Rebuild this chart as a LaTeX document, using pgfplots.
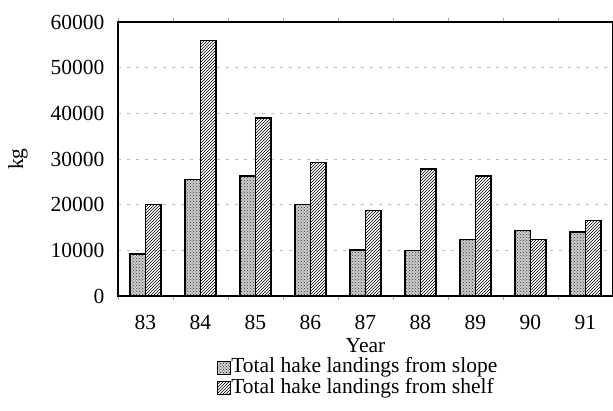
\documentclass[border=0pt]{standalone}
\usepackage{fontspec}
\setmainfont{Liberation Serif}
\usepackage{pgfplots}
\pgfplotsset{compat=1.18}
\usetikzlibrary{patterns}
\begin{document}
\begin{tikzpicture}[font=\fontsize{21.5}{23}\selectfont]
\path[use as bounding box] (0,0) rectangle (613pt,410pt);
\begin{axis}[
  at={(118pt,114pt)}, anchor=south west,
  scale only axis, width=495pt, height=274pt,
  /pgf/number format/assume math mode=true,
  ybar=0pt, bar width=15.6pt,
  xmin=-0.5, xmax=8.5, ymin=0, ymax=60000,
  xtick={0,...,8},
  xticklabels={83,84,85,86,87,88,89,90,91},
  minor xtick={-0.5,0.5,...,8.5},
  ytick={0,10000,...,60000},
  scaled y ticks=false,
  /pgf/number format/fixed,
  /pgf/number format/1000 sep={},
  yticklabel style={xshift=-10pt},
  xticklabel style={yshift=-16pt},
  tick align=outside,
  major tick length=0pt,
  minor tick length=4pt,
  minor x tick style={draw=gray!70, thin},
  ymajorgrids,
  grid style={gray!55, dash pattern=on 3pt off 6pt, line width=0.4pt},
  axis line style={line width=1.3pt},
  xlabel={Year},
  xlabel style={at={(axis description cs:0.5,-0.182)}, anchor=center, inner sep=0pt},
  ylabel={kg},
  ylabel style={at={(axis description cs:-0.202,0.5)}, anchor=center},
  legend style={at={(0.2,-0.228)}, anchor=north west, draw=none, fill=none,
    legend cell align=left, row sep=1.5pt, inner sep=0pt,
    nodes={text height=14pt, text depth=4.5pt, inner sep=0.3pt},
    /tikz/every even column/.append style={column sep=2pt}},
  legend image code/.code={\draw[#1, line width=0.8pt] (0pt,-6pt) rectangle (13pt,7pt);},
]
\addplot[draw=black, line width=1.3pt, fill=gray!40, postaction={pattern=crosshatch dots, pattern color=black!80}]
  coordinates {(0,9200) (1,25500) (2,26300) (3,20100) (4,10100) (5,9900) (6,12400) (7,14300) (8,14000)};
\addplot[draw=black, line width=1.3pt, pattern=north east lines, pattern color=black]
  coordinates {(0,20100) (1,56000) (2,39000) (3,29300) (4,18700) (5,27800) (6,26300) (7,12400) (8,16500)};
\legend{Total hake landings from slope, Total hake landings from shelf}
\end{axis}
\end{tikzpicture}
\end{document}
